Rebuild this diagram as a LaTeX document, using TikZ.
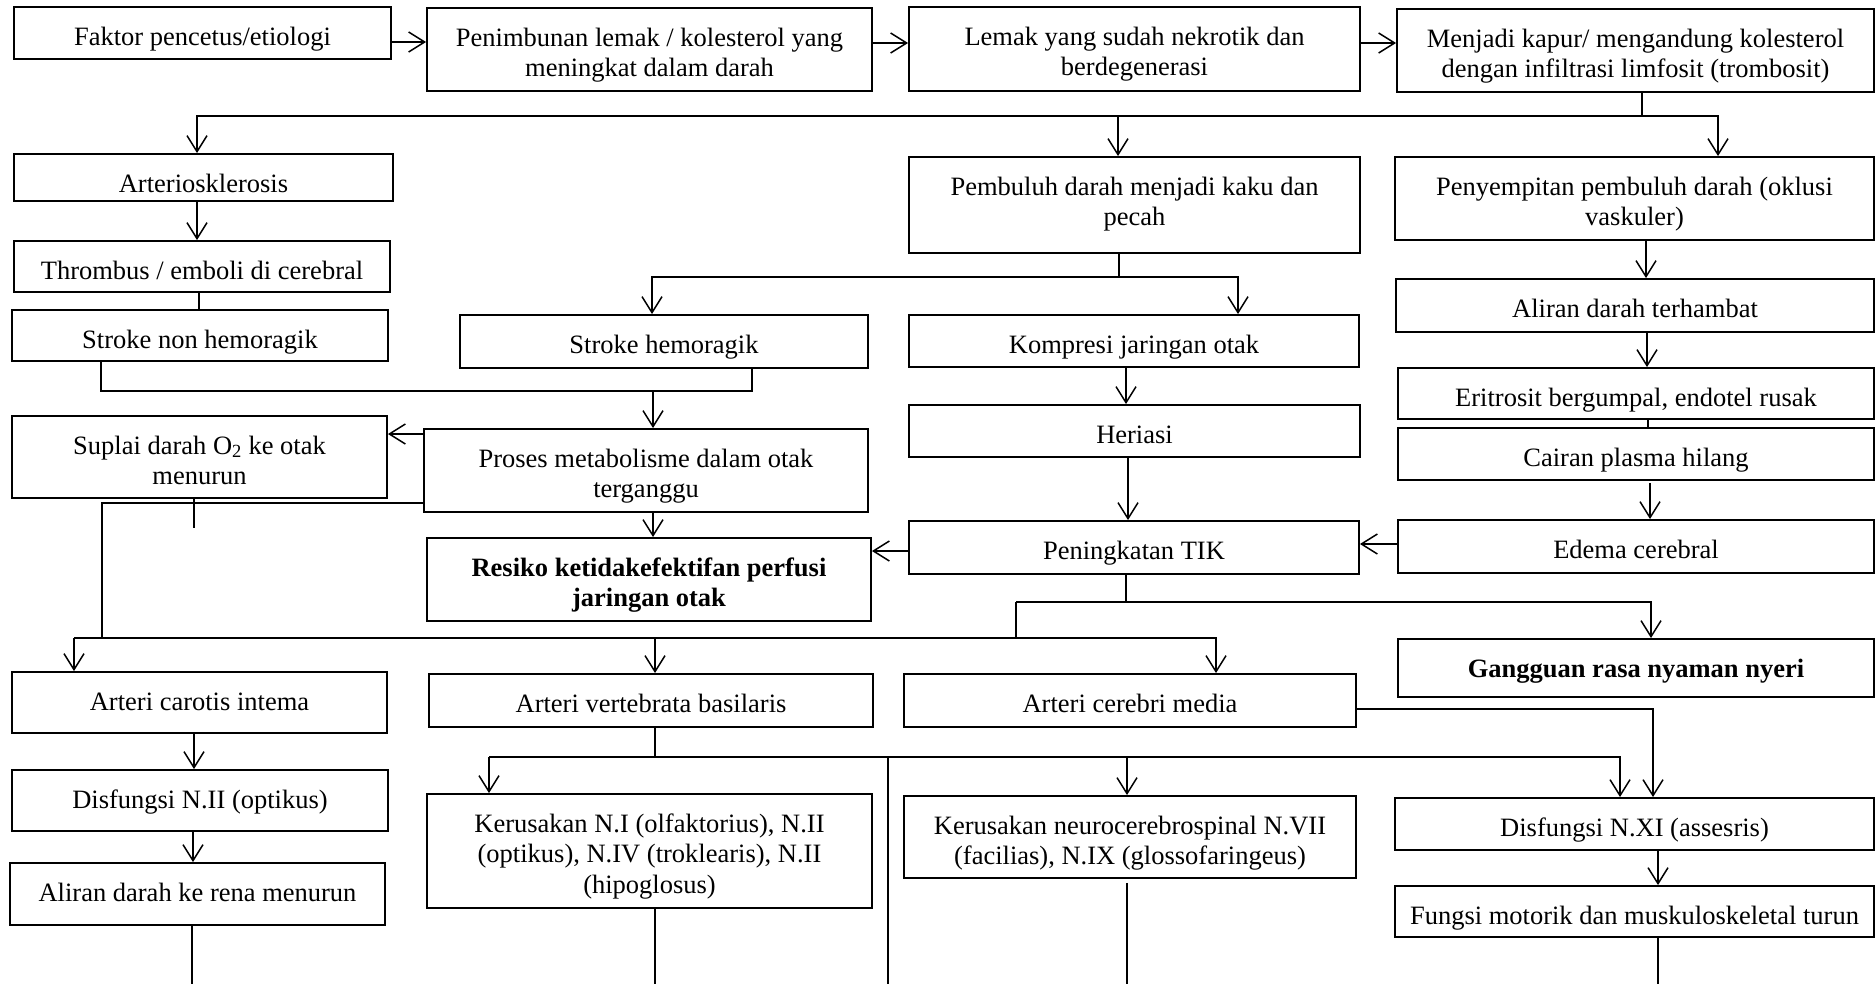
\documentclass[tikz,border=0pt]{standalone}
\usepackage{fontspec}
\setmainfont{Liberation Serif}
\usetikzlibrary{arrows.meta}
% text block whose first baseline sits 38pt below the top of a box of height #1
\newcommand\toptext[2]{\raisebox{0pt}[38pt][\dimexpr#1pt-38pt\relax]{\begin{tabular}[t]{@{}c@{}}#2\end{tabular}}}
\newcommand\bnode[6][]{\node[box, #1, minimum width=#4pt, minimum height=#5pt] (#2) at (#3) {\toptext{#5}{#6}};}
\begin{document}
\begin{tikzpicture}[x=1pt,y=-1pt,
  box/.style={draw, line width=1.9pt, inner sep=0pt, align=center, font=\fontsize{26.5}{30.5}\selectfont},
  bold/.style={font=\fontsize{26.5}{30.5}\selectfont\bfseries},
  con/.style={line width=1.5pt},
  arr/.style={con, -{Straight Barb[length=16pt,width=20pt]}}]
\useasboundingbox (0,0) rectangle (1876,983);
\fill[white] (0,0) rectangle (1876,983);
% nodes
\bnode{faktor}{202.5,33}{377}{52}{Faktor pencetus/etiologi}
\bnode{penimbunan}{649.5,49.5}{445}{83}{Penimbunan lemak / kolesterol yang\\meningkat dalam darah}
\bnode{lemak}{1134.5,49}{451}{84}{Lemak yang sudah nekrotik dan\\berdegenerasi}
\bnode{menjadi}{1635.5,50.5}{477}{83}{Menjadi kapur/ mengandung kolesterol\\dengan infiltrasi limfosit (trombosit)}
\bnode{arterio}{203.5,177.5}{379}{47}{Arteriosklerosis}
\bnode{pembuluh}{1134.5,205}{451}{96}{Pembuluh darah menjadi kaku dan\\pecah}
\bnode{penyempitan}{1634.5,198.5}{479}{83}{Penyempitan pembuluh darah (oklusi\\vaskuler)}
\bnode{thrombus}{202,266.5}{376}{51}{Thrombus / emboli di cerebral}
\bnode{aliran1}{1635,305.5}{478}{53}{Aliran darah terhambat}
\bnode{strokenon}{200,335.5}{376}{51}{Stroke non hemoragik}
\bnode{strokehem}{664,341.5}{408}{53}{Stroke hemoragik}
\bnode{kompresi}{1134,341}{450}{52}{Kompresi jaringan otak}
\bnode{eritrosit}{1636,393.5}{476}{51}{Eritrosit bergumpal, endotel rusak}
\bnode{heriasi}{1134.5,431}{451}{52}{Heriasi}
\bnode{suplai}{199.5,457}{375}{82}{Suplai darah O\textsubscript{2} ke otak\\menurun}
\bnode{cairan}{1636,454}{476}{52}{Cairan plasma hilang}
\bnode{proses}{646,470.5}{444}{83}{Proses metabolisme dalam otak\\terganggu}
\bnode{edema}{1636,546.5}{476}{53}{Edema cerebral}
\bnode{tik}{1134,547.5}{450}{53}{Peningkatan TIK}
\bnode[bold]{resiko}{649,579.5}{444}{83}{Resiko ketidakefektifan perfusi\\jaringan otak}
\bnode[bold]{gangguan}{1636,668}{476}{58}{Gangguan rasa nyaman nyeri}
\bnode{carotis}{199.5,702.5}{375}{61}{Arteri carotis intema}
\bnode{vertebrata}{651,700.5}{444}{53}{Arteri vertebrata basilaris}
\bnode{cerebri}{1130,700.5}{452}{53}{Arteri cerebri media}
\bnode{disfII}{200,800.5}{376}{61}{Disfungsi N.II (optikus)}
\bnode{kerusakan1}{649.5,851}{445}{114}{Kerusakan N.I (olfaktorius), N.II\\(optikus), N.IV (troklearis), N.II\\(hipoglosus)}
\bnode{kerusakan2}{1130,837}{452}{82}{Kerusakan neurocerebrospinal N.VII\\(facilias), N.IX (glossofaringeus)}
\bnode{disfXI}{1634.5,824}{479}{52}{Disfungsi N.XI (assesris)}
\bnode{aliran2}{197.5,894}{375}{62}{Aliran darah ke rena menurun}
\bnode{fungsi}{1634.5,911.5}{479}{51}{Fungsi motorik dan muskuloskeletal turun}
% levels
\coordinate (L1) at (0,116);
\coordinate (L2) at (0,277);
\coordinate (L3) at (0,391);
\coordinate (L4) at (0,638);
\coordinate (L5) at (0,602);
\coordinate (L6) at (0,757);
\coordinate (B) at (0,984);
% top row
\draw[arr] ([yshift=-9pt]faktor.east) -- ([yshift=-9pt]faktor.east -| penimbunan.west);
\draw[arr] ([yshift=6.5pt]penimbunan.east) -- ([yshift=6.5pt]penimbunan.east -| lemak.west);
\draw[arr] ([yshift=6pt]lemak.east) -- ([yshift=6pt]lemak.east -| menjadi.west);
\draw[con] ([xshift=6.5pt]menjadi.south) -- ([xshift=6.5pt]menjadi.south |- L1) coordinate (j1);
\draw[arr] (j1) -| ([xshift=-6.5pt]arterio.north);
\draw[arr] (j1) -| ([xshift=83.5pt]penyempitan.north);
\draw[arr] ([xshift=-16.5pt]pembuluh.north |- L1) -- ([xshift=-16.5pt]pembuluh.north);
% left column
\draw[arr] ([xshift=-6.5pt]arterio.south) -- ([xshift=-6.5pt]arterio.south |- thrombus.north);
\draw[con] ([xshift=-3pt]thrombus.south) -- ([xshift=-3pt]thrombus.south |- strokenon.north);
% pembuluh split
\draw[con] ([xshift=-15.5pt]pembuluh.south) -- ([xshift=-15.5pt]pembuluh.south |- L2) coordinate (j2);
\draw[arr] (j2) -| ([xshift=-12pt]strokehem.north);
\draw[arr] (j2) -| ([xshift=104pt]kompresi.north);
% strokes join
\draw[con] ([xshift=-99pt]strokenon.south) -- ([xshift=-99pt]strokenon.south |- L3) -| ([xshift=88pt]strokehem.south);
\draw[arr] ([xshift=7pt]proses.north |- L3) -- ([xshift=7pt]proses.north);
\draw[arr] ([yshift=36.5pt]proses.west) -- ([yshift=36.5pt]proses.west -| suplai.east);
\draw[con] ([yshift=-32.5pt]proses.west) -| ([xshift=-97.5pt]suplai.south |- L4);
\draw[con] ([xshift=-5.5pt]suplai.south) -- ++(0,29) coordinate (d1);
\draw[arr] ([xshift=7pt]proses.south) -- ([xshift=7pt]proses.south |- resiko.north);
\draw[arr] ([yshift=-3.5pt]tik.west) -- ([yshift=-3.5pt]tik.west -| resiko.east);
% middle column
\draw[arr] ([xshift=-8pt]kompresi.south) -- ([xshift=-8pt]kompresi.south |- heriasi.north);
\draw[arr] ([xshift=-6.5pt]heriasi.south) -- ([xshift=-6.5pt]heriasi.south |- tik.north);
% right column
\draw[arr] ([xshift=11.5pt]penyempitan.south) -- ([xshift=11.5pt]penyempitan.south |- aliran1.north);
\draw[arr] ([xshift=12pt]aliran1.south) -- ([xshift=12pt]aliran1.south |- eritrosit.north);
\draw[con] ([xshift=12pt]eritrosit.south) -- ([xshift=12pt]eritrosit.south |- cairan.north);
\draw[arr] ([xshift=14pt,yshift=-2pt]cairan.south) -- ([xshift=14pt]cairan.south |- edema.north);
\draw[arr] ([yshift=2.5pt]edema.west) -- ([yshift=2.5pt]edema.west -| tik.east);
% TIK split
\draw[con] ([xshift=-8pt]tik.south) -- ([xshift=-8pt]tik.south |- L5);
\draw[arr] ([xshift=-114pt]cerebri.north |- L5) -| ([xshift=15pt]gangguan.north);
\draw[con] ([xshift=-114pt]cerebri.north |- L5) -- ([xshift=-114pt]cerebri.north |- L4);
% big horizontal
\coordinate (k1) at ([xshift=-125.5pt]carotis.north |- L4);
\draw[arr] (k1) -- ([xshift=-125.5pt]carotis.north);
\draw[arr] (k1) -| ([xshift=86pt]cerebri.north);
\draw[arr] ([xshift=4pt]vertebrata.north |- L4) -- ([xshift=4pt]vertebrata.north);
% bottom left
\draw[arr] ([xshift=-5.5pt]carotis.south) -- ([xshift=-5.5pt]carotis.south |- disfII.north);
\draw[arr] ([xshift=-7pt]disfII.south) -- ([xshift=-7pt]disfII.south |- aliran2.north);
\draw[con] ([xshift=-5.5pt]aliran2.south) -- ([xshift=-5.5pt]aliran2.south |- B);
% vertebrata split
\draw[con] ([xshift=4pt]vertebrata.south) -- ([xshift=4pt]vertebrata.south |- L6);
\draw[arr] ([xshift=-160.5pt]kerusakan1.north |- L6) -- ([xshift=-160.5pt]kerusakan1.north);
\draw[arr] ([xshift=-160.5pt]kerusakan1.north |- L6) -| ([xshift=-14.5pt]disfXI.north);
\draw[arr] ([xshift=-3pt]kerusakan2.north |- L6) -- ([xshift=-3pt]kerusakan2.north);
\draw[con] ([xshift=-242pt]kerusakan2.north |- L6) -- ([xshift=-242pt]kerusakan2.north |- B);
\draw[arr] ([yshift=-8.5pt]cerebri.east) -| ([xshift=18.5pt]disfXI.north);
\draw[con] ([xshift=5.5pt]kerusakan1.south) -- ([xshift=5.5pt]kerusakan1.south |- B);
\draw[con] ([xshift=-3pt,yshift=-4pt]kerusakan2.south) -- ([xshift=-3pt]kerusakan2.south |- B);
\draw[arr] ([xshift=23.5pt]disfXI.south) -- ([xshift=23.5pt]disfXI.south |- fungsi.north);
\draw[con] ([xshift=23.5pt]fungsi.south) -- ([xshift=23.5pt]fungsi.south |- B);
\end{tikzpicture}
\end{document}
